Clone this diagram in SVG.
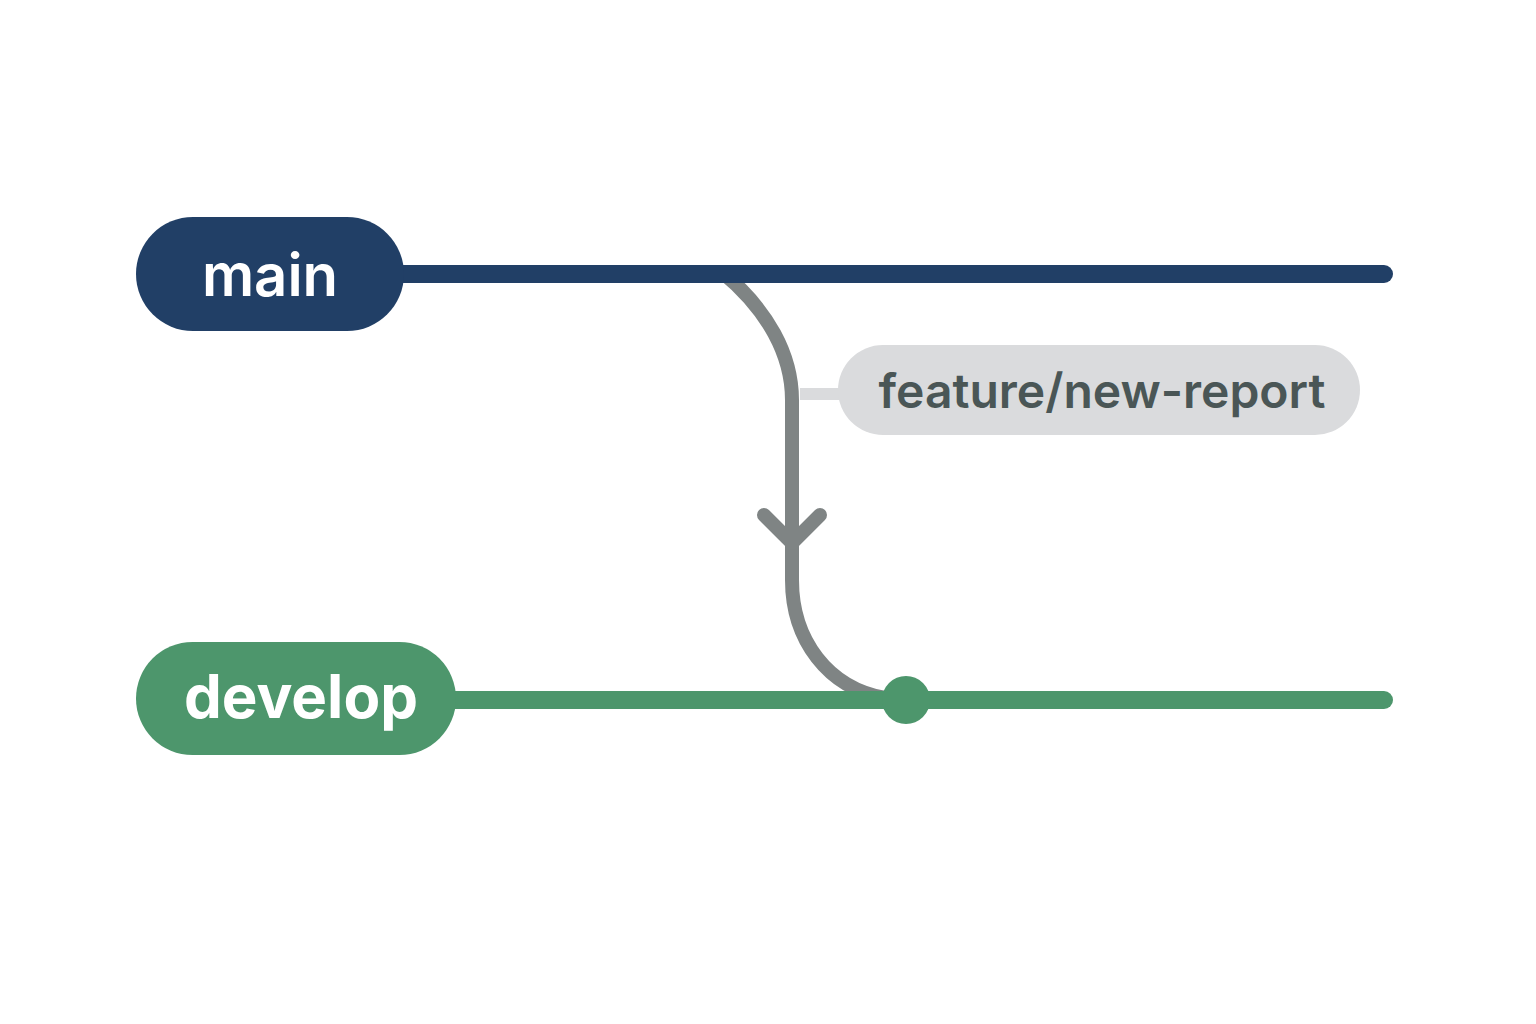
<svg xmlns="http://www.w3.org/2000/svg" width="1536" height="1024" viewBox="0 0 1536 1024">
<style>
.lbl{font-family:"Inter","Liberation Sans",sans-serif;font-weight:700;text-anchor:middle}
.gray{fill:none;stroke:#7f8484;stroke-width:14;stroke-linejoin:round}
</style>
<rect width="1536" height="1024" fill="#ffffff"/>
<g id="connectors">
<line x1="800" y1="394" x2="842" y2="394" stroke="#dadbdd" stroke-width="12"/>
<path class="gray" d="M722,272 C768,310 792,355 792,400 L792,580 C792,640 828,688 885,698"/>
<path class="gray" stroke-linecap="round" d="M764,515 L792,543 L820,515"/>
<line x1="400" y1="274" x2="1384" y2="274" stroke="#213f66" stroke-width="18" stroke-linecap="round"/>
<line x1="450" y1="700" x2="1384" y2="700" stroke="#4d966c" stroke-width="18" stroke-linecap="round"/>
</g>
<g id="main">
<rect x="136" y="217" width="268" height="114" rx="57" fill="#213f66"/>
<text class="lbl" x="270" y="296" font-size="58" fill="#ffffff" style="font-weight:600">main</text>
</g>
<g id="develop">
<rect x="136" y="642" width="320" height="113" rx="56.5" fill="#4d966c"/>
<text class="lbl" x="301" y="718" font-size="60" fill="#ffffff">develop</text>
</g>
<g id="merge">
<circle cx="906" cy="700" r="24" fill="#4d966c"/>
</g>
<g id="feature">
<rect x="838" y="345" width="522" height="90" rx="45" fill="#dadbdd"/>
<text class="lbl" x="1102" y="408" font-size="48" fill="#4a5656" style="font-weight:600">feature/new-report</text>
</g>
</svg>
